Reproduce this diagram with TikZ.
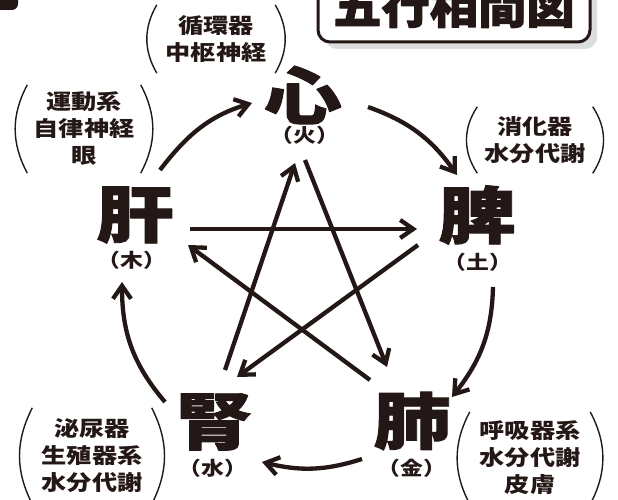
\documentclass[tikz,border=0pt]{standalone}
\usepackage{fontspec}
\usepackage{tikz}
\usetikzlibrary{arrows.meta,shadows}

\newfontfamily\organfont[FakeStretch=1.25,FakeBold=1.5]{Noto Sans CJK JP}
\newfontfamily\notefont[FakeStretch=1.2]{Noto Sans CJK JP}
\newfontfamily\titlefont[FakeStretch=1.05,FakeBold=2]{Noto Sans CJK JP}

\definecolor{ink}{HTML}{231815}
\definecolor{shade}{HTML}{DCDDDD}

\begin{document}
\begin{tikzpicture}[x=1pt,y=1pt,>={Straight Barb[length=13pt,width=18pt]},
                        line join=round]
      \tikzstyle{organ}=[inner sep=0pt,text=ink,
                         font=\organfont\bfseries\fontsize{62}{62}\selectfont]
      \tikzstyle{elem}=[inner sep=0pt,text=ink,
                        font=\notefont\bfseries\fontsize{19}{19}\selectfont]
      \tikzstyle{note}=[inner sep=0pt,text=ink,align=center,
                        font=\notefont\bfseries\fontsize{21}{27}\selectfont]
      \tikzstyle{paren}=[draw=ink,line width=1.4pt]
      \tikzstyle{flow}=[->,draw=ink,line width=4.3pt]

      \useasboundingbox (0,0) rectangle (618,-500);
      \fill[ink,rounded corners=6pt] (-40,30) rectangle (18,-10);

      % title
      \node[draw=ink,line width=3pt,fill=white,rounded corners=12pt,
            minimum width=272pt,minimum height=72pt,inner sep=0pt,
            drop shadow={fill=shade,opacity=1,shadow xshift=7pt,shadow yshift=-7pt},
            font=\titlefont\bfseries\fontsize{46}{46}\selectfont,text=ink]
            (title) at (454,-6) {五行相間図};

      % organs
      \node[organ] (shin) at (303,-95)  {心};
      \node[organ] (hi)   at (477,-215) {脾};
      \node[organ] (hai)  at (412,-421) {肺};
      \node[organ] (jin)  at (214,-422) {腎};
      \node[organ] (kan)  at (135,-215) {肝};

      \node[elem] (shin-el) at (305,-135) {（火）};
      \node[elem] (hi-el)   at (478,-262) {（土）};
      \node[elem] (hai-el)  at (412,-468) {（金）};
      \node[elem] (jin-el)  at (213,-468) {（水）};
      \node[elem] (kan-el)  at (132,-260) {（木）};

      % notes
      \node[note,minimum width=118pt,minimum height=68pt] (circ) at (216,-39)  {循環器\\中枢神経};
      \node[note,minimum width=113pt,minimum height=88pt] (moto) at (84,-129)  {運動系\\自律神経\\眼};
      \node[note,minimum width=115pt,minimum height=66pt] (dige) at (535,-140) {消化器\\水分代謝};
      \node[note,minimum width=119pt,minimum height=96pt] (urin) at (92,-456)  {泌尿器\\生殖器系\\水分代謝};
      \node[note,minimum width=120pt,minimum height=92pt] (resp) at (530,-458) {呼吸器系\\水分代謝\\皮膚};

      \foreach \n/\b in {circ/30,moto/28,dige/34,urin/27,resp/28}{
        \draw[paren] (\n.north west) to[bend right=\b] (\n.south west);
        \draw[paren] (\n.north east) to[bend left=\b] (\n.south east);
      }

      % cycle
      \draw[flow] ([shift={(25,45)}]kan.center) to[out=52.5,in=196.8] ([shift={(-51,-8)}]shin.center);
      \draw[flow] ([shift={(65,-12)}]shin.center) to[out=-19.5,in=125.3] ([shift={(-20,40)}]hi.center);
      \draw[flow] ([shift={(16,-72)}]hi.center) to[out=-91.5,in=51.8] ([shift={(40,24)}]hai.center);
      \draw[flow] ([shift={(-50,-38)}]hai.center) to[out=-162.4,in=-13.7] ([shift={(48,-40)}]jin.center);
      \draw[flow] ([shift={(-49,20)}]jin.center) to[out=130.4,in=-90] ([shift={(-13,-67)}]kan.center);

      % star
      \draw[flow] ([shift={(55,-14)}]kan.center) -- ([shift={(-60,-14)}]hi.center);
      \draw[flow] ([shift={(-59,-30)}]hi.center) -- ([shift={(23,45)}]jin.center);
      \draw[flow] ([shift={(11,52)}]jin.center) -- ([shift={(-8,-68)}]shin.center);
      \draw[flow] ([shift={(2,-65)}]shin.center) -- ([shift={(-25,54)}]hai.center);
      \draw[flow] ([shift={(-42,41)}]hai.center) -- ([shift={(53,-30)}]kan.center);

    \end{tikzpicture}
\end{document}
